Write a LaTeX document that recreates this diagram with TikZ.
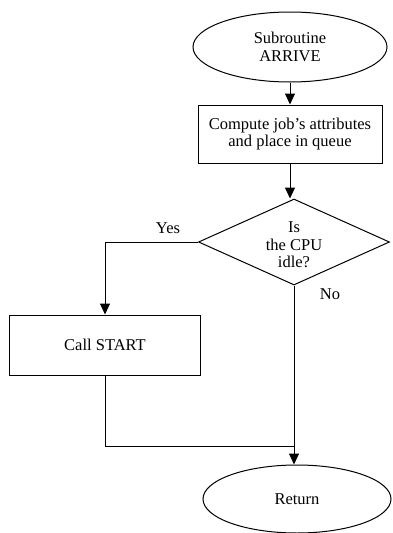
\documentclass[tikz,border=0pt]{standalone}
\usepackage{fontspec}
\setmainfont{Liberation Serif}
\usetikzlibrary{shapes.geometric, arrows.meta, positioning, calc}

\begin{document}
\begin{tikzpicture}[x=1pt, y=-1pt, font=\fontsize{16.5}{17.5}\selectfont,
        term/.style={draw, line width=1pt, ellipse, align=center, inner sep=0pt, minimum width=194pt, minimum height=70pt},
        proc/.style={draw, line width=1pt, rectangle, align=center, inner sep=0pt, minimum width=184pt, minimum height=58pt},
        test/.style={draw, line width=1pt, diamond, inner sep=0pt, minimum width=191pt, minimum height=86pt},
        flow/.style={line width=1pt, -{Triangle[width=10pt,length=11pt]}}]
    \useasboundingbox (0,0) rectangle (393,533);
    \node[term] (arrive) at (290,47) {Subroutine\\ARRIVE};
    \node[proc] (compute) at (290,134) {Compute job's attributes\\and place in queue};
    \node[test] (cpu) at (294,242) {\smash{\raisebox{-9pt}{\begin{tabular}{@{}c@{}}Is\\the CPU\\idle?\end{tabular}}}};
    \node[proc, minimum width=191pt, minimum height=60pt] (start) at (105,345) {Call START};
    \node[term, minimum width=188pt, minimum height=68pt] (ret) at (297,499) {Return};
    \node (yes) at (168,228) {Yes};
    \node (no) at (330,294) {No};
    \coordinate (join) at (cpu.south |- 0,446);
    \draw[flow] (arrive) -- (compute);
    \draw[flow] (compute) -- (compute |- cpu.north);
    \draw[flow] (cpu.west) -| (start);
    \draw[line width=1pt] (cpu.south) -- (join);
    \draw[line width=1pt] (start.south) |- (join);
    \draw[flow] (join) -- (join |- ret.north);
\end{tikzpicture}
\end{document}
